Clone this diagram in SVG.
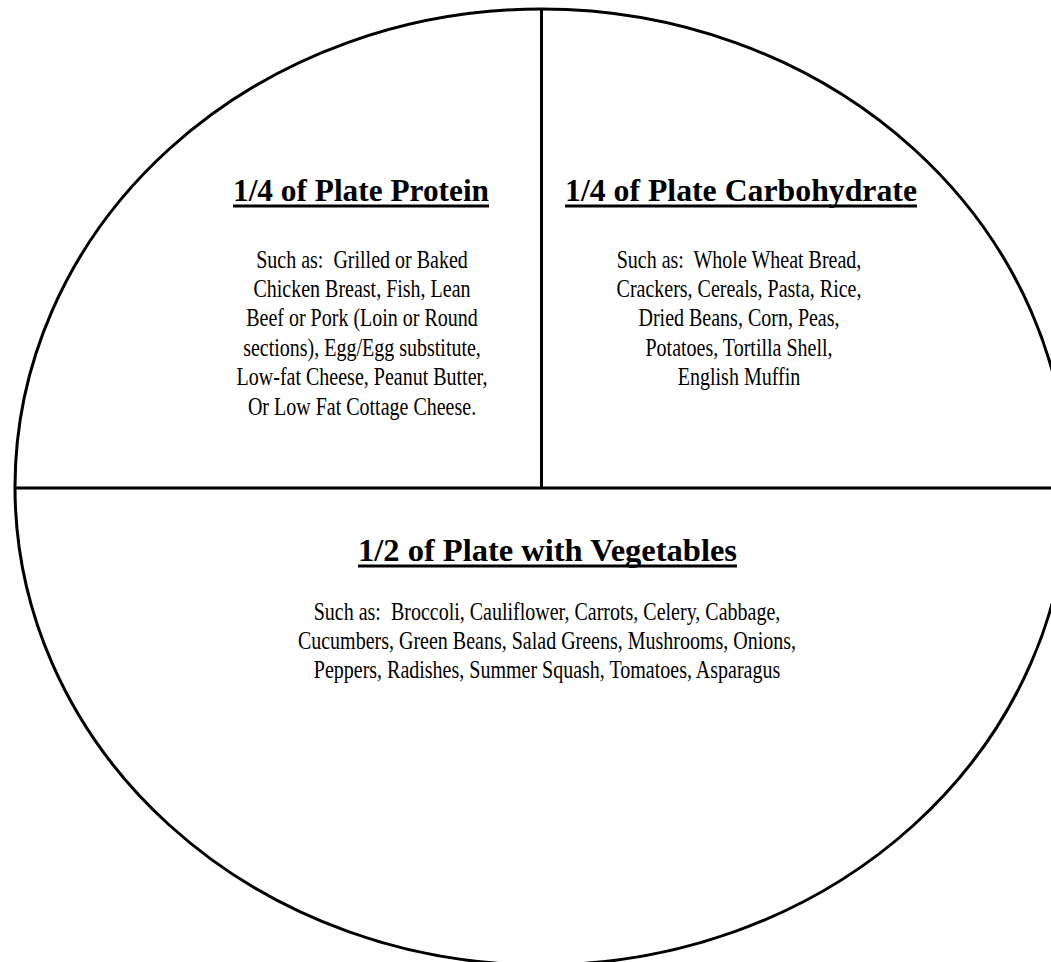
<svg xmlns="http://www.w3.org/2000/svg" width="1051" height="962" viewBox="0 0 1051 962">
<style>
.ln{stroke:#000;stroke-width:3;fill:none}
.t{font-family:"Liberation Serif","Times New Roman",serif;font-weight:bold;font-size:32px;text-anchor:middle;fill:#000}
.b{font-family:"Liberation Serif","Times New Roman",serif;font-size:20px;text-anchor:middle;fill:#000;white-space:pre}
.u{stroke:#000;stroke-width:3}
</style>
<rect width="1051" height="962" fill="#fff"/>
<g id="plate">
<ellipse class="ln" cx="541.5" cy="487" rx="526.5" ry="478"/>
</g>
<g id="connectors">
<line class="ln" x1="541.5" y1="9" x2="541.5" y2="488"/>
<line class="ln" x1="14" y1="488" x2="1051" y2="488"/>
</g>
<g id="protein">
<text class="t" x="361" y="201" textLength="256" lengthAdjust="spacingAndGlyphs">1/4 of Plate Protein</text>
<line class="u" x1="233" y1="206" x2="489" y2="206"/>
<text class="b" transform="translate(362,268) scale(1,1.28)" xml:space="preserve">Such as:  Grilled or Baked</text>
<text class="b" transform="translate(362,297) scale(1,1.28)">Chicken Breast, Fish, Lean</text>
<text class="b" transform="translate(362,326) scale(1,1.28)">Beef or Pork (Loin or Round</text>
<text class="b" transform="translate(362,356) scale(1,1.28)">sections), Egg/Egg substitute,</text>
<text class="b" transform="translate(362,385) scale(1,1.28)">Low-fat Cheese, Peanut Butter,</text>
<text class="b" transform="translate(362,415) scale(1,1.28)">Or Low Fat Cottage Cheese.</text>
</g>
<g id="carbohydrate">
<text class="t" x="741" y="201" textLength="352" lengthAdjust="spacingAndGlyphs">1/4 of Plate Carbohydrate</text>
<line class="u" x1="565" y1="206" x2="917" y2="206"/>
<text class="b" transform="translate(739,268) scale(1,1.28)" xml:space="preserve">Such as:  Whole Wheat Bread,</text>
<text class="b" transform="translate(739,297) scale(1,1.28)">Crackers, Cereals, Pasta, Rice,</text>
<text class="b" transform="translate(739,326) scale(1,1.28)">Dried Beans, Corn, Peas,</text>
<text class="b" transform="translate(739,356) scale(1,1.28)">Potatoes, Tortilla Shell,</text>
<text class="b" transform="translate(739,385) scale(1,1.28)">English Muffin</text>
</g>
<g id="vegetables">
<text class="t" x="547.5" y="561" textLength="379" lengthAdjust="spacingAndGlyphs">1/2 of Plate with Vegetables</text>
<line class="u" x1="358" y1="566" x2="737" y2="566"/>
<text class="b" transform="translate(547,620) scale(1,1.28)" xml:space="preserve">Such as:  Broccoli, Cauliflower, Carrots, Celery, Cabbage,</text>
<text class="b" transform="translate(547,649) scale(1,1.28)">Cucumbers, Green Beans, Salad Greens, Mushrooms, Onions,</text>
<text class="b" transform="translate(547,678) scale(1,1.28)">Peppers, Radishes, Summer Squash, Tomatoes, Asparagus</text>
</g>
</svg>
